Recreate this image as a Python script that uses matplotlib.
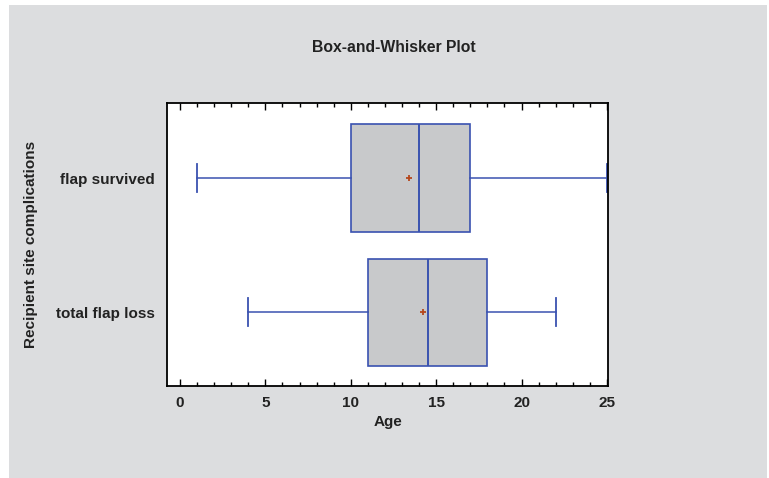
import matplotlib.pyplot as plt
from matplotlib.patches import Rectangle
from matplotlib.ticker import MultipleLocator

# box-and-whisker summaries
groups = ['total flap loss', 'flap survived']
whis_low = [4, 1]
q1 = [11, 10]
median = [14.5, 14]
q3 = [18, 17]
whis_high = [22, 25]
mean = [14.2, 13.4]

plt.rcParams['font.family'] = ['Liberation Sans', 'DejaVu Sans']
plt.rcParams['font.weight'] = 'bold'

blue = '#3a52b0'
txt = '#222222'

fig = plt.figure(figsize=(7.69, 4.78), dpi=100)
fig.patch.set_facecolor('white')
fig.patches.append(Rectangle((9 / 769, 0), 1 - 11 / 769, 1 - 5 / 478,
                             transform=fig.transFigure, facecolor='#dcdddf',
                             edgecolor='none', zorder=-1))

ax = fig.add_axes([167 / 769, 1 - 386 / 478, 441 / 769, 283 / 478])
ax.set_facecolor('white')

stats = []
for i in range(len(groups)):
    stats.append({'label': groups[i], 'whislo': whis_low[i], 'q1': q1[i],
                  'med': median[i], 'q3': q3[i], 'whishi': whis_high[i],
                  'mean': mean[i], 'fliers': []})

ax.bxp(stats, positions=[1, 2], widths=0.8, vert=False, patch_artist=True,
       showmeans=True, capwidths=0.21,
       boxprops=dict(facecolor='#c8c9cb', edgecolor=blue, linewidth=1.2),
       medianprops=dict(color=blue, linewidth=1.4),
       whiskerprops=dict(color=blue, linewidth=1.1),
       capprops=dict(color=blue, linewidth=1.3),
       meanprops=dict(marker='+', markeredgecolor='#b5471c', markersize=5,
                      markeredgewidth=1.3))

ax.set_xlim(-0.76, 25.06)
ax.set_ylim(0.45, 2.56)
ax.xaxis.set_major_locator(MultipleLocator(5))
ax.xaxis.set_minor_locator(MultipleLocator(1))
ax.tick_params(axis='x', which='both', direction='in', top=True, bottom=True,
               colors='black', labelcolor=txt, labelsize=11, pad=7, width=1)
ax.tick_params(axis='x', which='major', length=5)
ax.tick_params(axis='x', which='minor', length=3)
ax.tick_params(axis='y', length=0, labelsize=11, labelcolor=txt, pad=9)
for s in ax.spines.values():
    s.set_linewidth(1.3)

ax.set_xlabel('Age', fontsize=11, fontweight='bold', color=txt, labelpad=4)
ax.set_ylabel('Recipient site complications', fontsize=11, fontweight='bold',
              color=txt, labelpad=13)
fig.text(394 / 769, 1 - 48 / 478, 'Box-and-Whisker Plot', ha='center',
         va='center', fontsize=11.3, fontweight='bold', color=txt)

fig.savefig('out.png', dpi=100)
